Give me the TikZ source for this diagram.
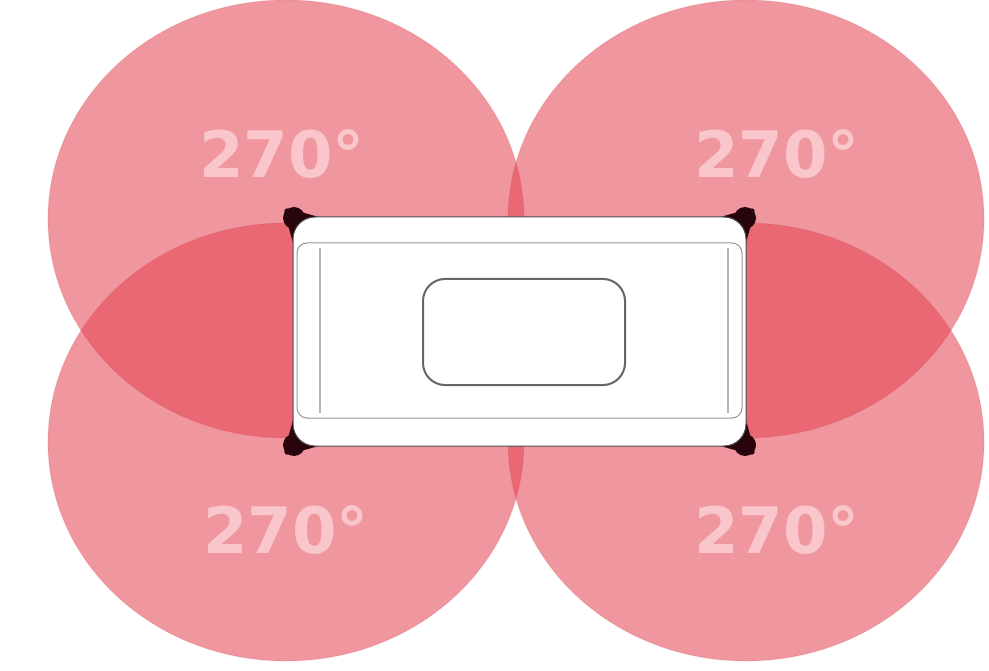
\documentclass[tikz,border=0pt]{standalone}
\usepackage{fontspec}
\newfontfamily\labelfont{DejaVu Sans}
\usepackage{xcolor}
\usepackage{tikz}

\definecolor{lobe}{RGB}{228,64,80}
\definecolor{lobeedge}{RGB}{190,80,90}
\definecolor{labeltext}{RGB}{249,198,203}
\definecolor{framegray}{RGB}{150,150,150}
\definecolor{cornerdark}{RGB}{40,4,12}

\begin{document}
\begin{tikzpicture}[x=1pt, y=-1pt,
    lobe/.style={fill=lobe, fill opacity=0.55, draw=lobeedge,
                 draw opacity=0.15, line width=1.2pt},
    anglelabel/.style={text=labeltext, inner sep=0pt,
                 font=\labelfont\bfseries\fontsize{64}{64}\selectfont}]

  \useasboundingbox (0,0) rectangle (989,671);
  \clip (0,0) rectangle (989,671);

  %--- Coverage lobes ------------------------------------------------------
  \foreach \cx/\cy/\n in {286/219/tl, 746/219/tr, 286/442/bl, 746/442/br}{
    \coordinate (c\n) at (\cx,\cy);
    \path[lobe] (c\n) ellipse [x radius=238, y radius=219];
  }

  %--- Case body -----------------------------------------------------------
  \coordinate (caseNW) at (293,217);
  \coordinate (caseSE) at (746,446);
  \foreach \px/\py/\sx/\sy in {293/217/1/1, 746/217/-1/1,
                               293/446/1/-1, 746/446/-1/-1}{
    \fill[cornerdark, rounded corners=6pt]
         (\px-10*\sx, \py-10*\sy) -- (\px+40*\sx, \py+4*\sy)
         -- (\px+4*\sx, \py+40*\sy) -- cycle;
    \fill[cornerdark] (\px+1*\sx, \py+1*\sy) circle (11);
  }
  \filldraw[fill=white, draw=black!70, line width=1pt, rounded corners=22pt]
           (caseNW) rectangle (caseSE);

  %--- Inner frame ---------------------------------------------------------
  \draw[framegray, line width=1pt, rounded corners=10pt]
       (297,243) rectangle (742,418);
  \draw[framegray!70, line width=2pt] (320,248) -- (320,413);
  \draw[framegray!70, line width=2pt] (728,248) -- (728,413);

  %--- Centre window -------------------------------------------------------
  \draw[black!60, line width=2pt, rounded corners=22pt]
       (423,279) rectangle (625,385);

  %--- Angle labels --------------------------------------------------------
  \foreach \n/\lx/\ly in {tl/282/154, tr/777/154, bl/286/530, br/777/530}
    \node[anglelabel] (lbl\n) at (\lx,\ly) {270°};

\end{tikzpicture}
\end{document}
